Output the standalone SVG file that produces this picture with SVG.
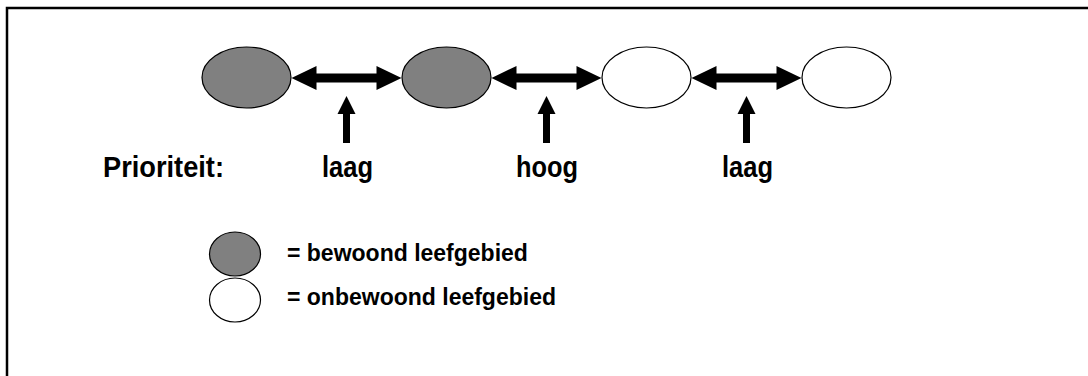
<svg xmlns="http://www.w3.org/2000/svg" width="1088" height="376" viewBox="0 0 1088 376">
  <style>
    .frame { fill: none; stroke: #000; stroke-width: 2.5; }
    .occupied { fill: #808080; stroke: #000; stroke-width: 1.2; }
    .empty { fill: #fff; stroke: #000; stroke-width: 1.2; }
    .arrow { fill: #000; stroke: none; }
    .prio { font-family: "Liberation Sans", Arial, sans-serif; font-weight: bold; font-size: 30px; fill: #000; }
    .legend { font-family: "Liberation Sans", Arial, sans-serif; font-weight: bold; font-size: 23px; fill: #000; }
  </style>
  <defs>
    <!-- double-headed horizontal connector, drawn around x=0 -->
    <polygon id="dbl" class="arrow" points="-55,0 -30,-12 -30,-4.5 30,-4.5 30,-12 55,0 30,12 30,4.5 -30,4.5 -30,12"/>
    <!-- upward pointer, tip at origin -->
    <polygon id="up" class="arrow" points="0,0 9,18 3.5,18 3.5,47 -3.5,47 -3.5,18 -9,18"/>
  </defs>

  <rect width="1088" height="376" fill="#fff"/>
  <path class="frame" d="M7,376 V8 H1088"/>

  <g id="habitat-1"><ellipse class="occupied" cx="246.5" cy="77.5" rx="44.5" ry="30.5"/></g>
  <g id="habitat-2"><ellipse class="occupied" cx="446.5" cy="77.5" rx="44.5" ry="30.5"/></g>
  <g id="habitat-3"><ellipse class="empty" cx="646.5" cy="77.5" rx="44.5" ry="30.5"/></g>
  <g id="habitat-4"><ellipse class="empty" cx="846.5" cy="77.5" rx="44.5" ry="30.5"/></g>

  <g id="connectors">
    <use href="#dbl" x="346.5" y="78"/>
    <use href="#dbl" x="546.5" y="78"/>
    <use href="#dbl" x="746.5" y="78"/>
    <use href="#up" x="346.5" y="96"/>
    <use href="#up" x="546.5" y="96"/>
    <use href="#up" x="746.5" y="96"/>
  </g>

  <g id="priority-labels">
    <text class="prio" x="103" y="177" textLength="121" lengthAdjust="spacingAndGlyphs">Prioriteit:</text>
    <text class="prio" x="322" y="177" textLength="51" lengthAdjust="spacingAndGlyphs">laag</text>
    <text class="prio" x="516" y="177" textLength="62" lengthAdjust="spacingAndGlyphs">hoog</text>
    <text class="prio" x="722" y="177" textLength="51" lengthAdjust="spacingAndGlyphs">laag</text>
  </g>

  <g id="legend-occupied">
    <ellipse class="occupied" cx="235" cy="254" rx="25.5" ry="22"/>
    <text class="legend" x="287" y="261">= bewoond leefgebied</text>
  </g>
  <g id="legend-empty">
    <ellipse class="empty" cx="235" cy="300" rx="25.5" ry="22"/>
    <text class="legend" x="287" y="305">= onbewoond leefgebied</text>
  </g>
</svg>
